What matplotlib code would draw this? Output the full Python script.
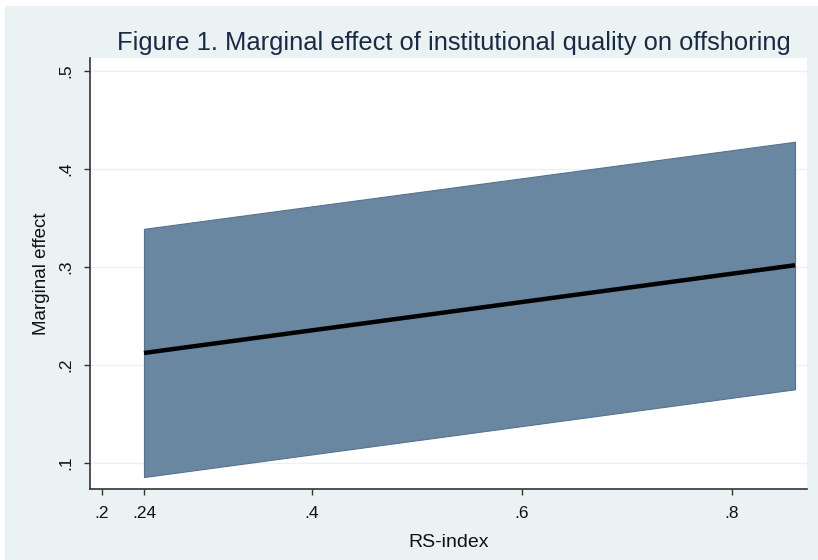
import matplotlib
matplotlib.use("Agg")
import matplotlib.pyplot as plt
from matplotlib.patches import Rectangle

# Data
rs_index = [0.24, 0.86]
marginal_effect = [0.2122, 0.3017]
ci_upper = [0.3388, 0.4276]
ci_lower = [0.0857, 0.1752]

x_ticks = [0.2, 0.24, 0.4, 0.6, 0.8]
x_tick_labels = [".2", ".24", ".4", ".6", ".8"]
y_ticks = [0.1, 0.2, 0.3, 0.4, 0.5]
y_tick_labels = [".1", ".2", ".3", ".4", ".5"]

title = "Figure 1. Marginal effect of institutional quality on offshoring"
xlabel = "RS-index"
ylabel = "Marginal effect"

plt.rcParams['font.family'] = ['Liberation Sans', 'DejaVu Sans']

W, H = 818, 560
fig = plt.figure(figsize=(W / 100, H / 100), dpi=100, facecolor="white")
bg = "#EAF2F3"
fig.patches.append(Rectangle((5 / W, 0), 1, 1 - 6 / H, transform=fig.transFigure,
                             facecolor=bg, edgecolor="none", zorder=-10))

ax = fig.add_axes([90 / W, 1 - 489 / H, (807 - 90) / W, (489 - 58) / H])
ax.set_facecolor("white")

ax.fill_between(rs_index, ci_lower, ci_upper, facecolor="#6A87A1",
                edgecolor="#56728E", linewidth=0.8, zorder=2)
ax.plot(rs_index, marginal_effect, color="black", linewidth=3.2, zorder=3,
        solid_capstyle="butt")

ax.set_xlim(0.1886, 0.8714)
ax.set_ylim(0.0735, 0.513)

ax.set_xticks(x_ticks)
ax.set_xticklabels(x_tick_labels, fontsize=12.5)
ax.set_yticks(y_ticks)
ax.set_yticklabels(y_tick_labels, fontsize=12.5, rotation=90, va="center")

ax.grid(axis="y", color="#EAF2F3", linewidth=1.0, zorder=1)
ax.set_axisbelow(True)

for s in ["top", "right"]:
    ax.spines[s].set_visible(False)
for s in ["left", "bottom"]:
    ax.spines[s].set_color("#333333")
    ax.spines[s].set_linewidth(1.2)

ax.tick_params(axis="both", direction="out", length=4, width=1.0,
               color="#333333", labelcolor="#111111")
ax.tick_params(axis="x", pad=8)
ax.tick_params(axis="y", pad=8)

ax.set_xlabel(xlabel, fontsize=14, color="#111111")
ax.xaxis.set_label_coords(0.5, -0.105)
ax.set_ylabel(ylabel, fontsize=13.5, color="#111111")
ax.yaxis.set_label_coords(-0.056, 0.5)

fig.text(454 / W, 1 - 43 / H, title, fontsize=18.4, color="#1a2a44",
         ha="center", va="center")

fig.savefig("out.png", dpi=100, facecolor=fig.get_facecolor())
